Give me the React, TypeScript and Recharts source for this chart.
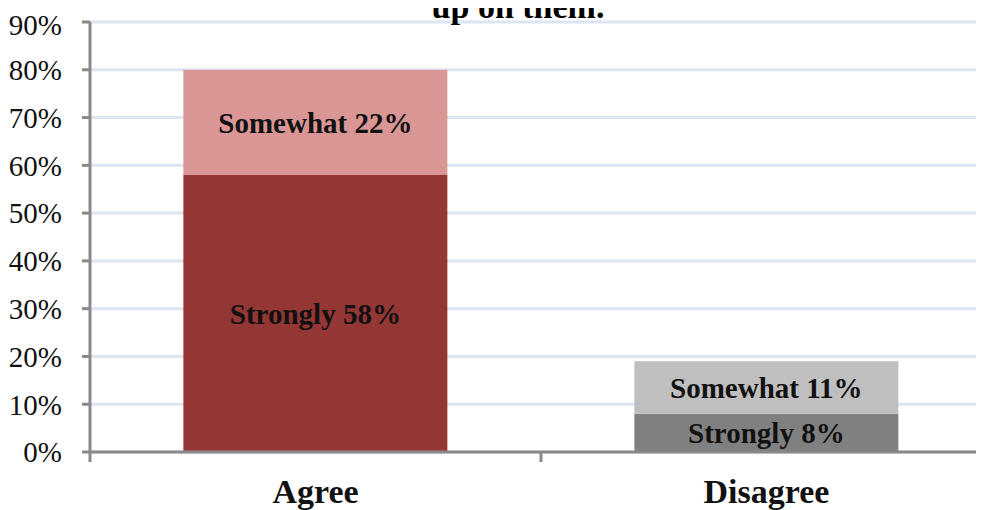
import { Bar, BarChart, CartesianGrid, Cell, LabelList, XAxis, YAxis } from 'recharts';

const categories = ['Agree', 'Disagree'];
const stronglyValues = [58, 8];
const somewhatValues = [22, 11];
const stronglyLabels = ['Strongly 58%', 'Strongly 8%'];
const somewhatLabels = ['Somewhat 22%', 'Somewhat 11%'];
const stronglyColors = ['#943634', '#808080'];
const somewhatColors = ['#D99694', '#BFBFBF'];
const yTicks = [0, 10, 20, 30, 40, 50, 60, 70, 80, 90];
const titleTail = 'up on them.';

const data = categories.map((name, i) => ({
  name,
  strongly: stronglyValues[i],
  somewhat: somewhatValues[i],
  stronglyLabel: stronglyLabels[i],
  somewhatLabel: somewhatLabels[i],
}));

const serif = '"Liberation Serif", "Times New Roman", serif';
const axisGray = '#898989';
const chartWidth = 984;
const yAxisWidth = 82;
const xTickMargin = 30;
// half of one category band, for the Excel-style ticks between categories
const halfBand = (chartWidth - yAxisWidth) / categories.length / 2;

const labelStyle = {
  fill: '#111',
  fontFamily: serif,
  fontWeight: 'bold' as const,
  fontSize: 29,
};

const CategoryTick = (props: any) => {
  const { x, y, payload } = props;
  const axisY = y - xTickMargin;
  return (
    <g>
      <line
        x1={x - halfBand}
        x2={x - halfBand}
        y1={axisY}
        y2={axisY + 10}
        stroke={axisGray}
        strokeWidth={3}
      />
      <text
        x={x}
        y={axisY + 51}
        textAnchor="middle"
        fill="#111"
        fontFamily={serif}
        fontWeight="bold"
        fontSize={34}
      >
        {payload.value}
      </text>
    </g>
  );
};

export default function App() {
  return (
    <div style={{ position: 'relative', width: 976, height: 502, overflow: 'hidden' }}>
      <div
        style={{
          position: 'absolute',
          top: -19,
          left: 0,
          width: 1020,
          textAlign: 'center',
          fontFamily: serif,
          fontWeight: 'bold',
          fontSize: 34,
          lineHeight: '36px',
          zIndex: 2,
        }}
      >
        {titleTail}
      </div>
      <BarChart
        width={chartWidth}
        height={502}
        data={data}
        margin={{ top: 14, right: 0, bottom: 0, left: 0 }}
        barCategoryGap="20.7%"
      >
        <CartesianGrid vertical={false} stroke="#DCE6F2" strokeWidth={3} />
        <XAxis
          dataKey="name"
          height={58}
          axisLine={{ stroke: axisGray, strokeWidth: 3 }}
          tickLine={false}
          tickSize={0}
          tickMargin={xTickMargin}
          tick={<CategoryTick />}
          interval={0}
        />
        <YAxis
          width={yAxisWidth}
          domain={[0, 90]}
          ticks={yTicks}
          tickFormatter={(v) => `${v}%`}
          axisLine={{ stroke: axisGray, strokeWidth: 3 }}
          tickLine={{ stroke: axisGray, strokeWidth: 3 }}
          tickSize={8}
          tickMargin={20}
          tick={{ fill: '#111', fontFamily: serif, fontSize: 29 }}
        />
        <Bar dataKey="strongly" stackId="a" isAnimationActive={false}>
          {data.map((_, i) => (
            <Cell key={`s-${i}`} fill={stronglyColors[i]} />
          ))}
          <LabelList dataKey="stronglyLabel" position="center" style={labelStyle} />
        </Bar>
        <Bar dataKey="somewhat" stackId="a" isAnimationActive={false}>
          {data.map((_, i) => (
            <Cell key={`w-${i}`} fill={somewhatColors[i]} />
          ))}
          <LabelList dataKey="somewhatLabel" position="center" style={labelStyle} />
        </Bar>
      </BarChart>
    </div>
  );
}
